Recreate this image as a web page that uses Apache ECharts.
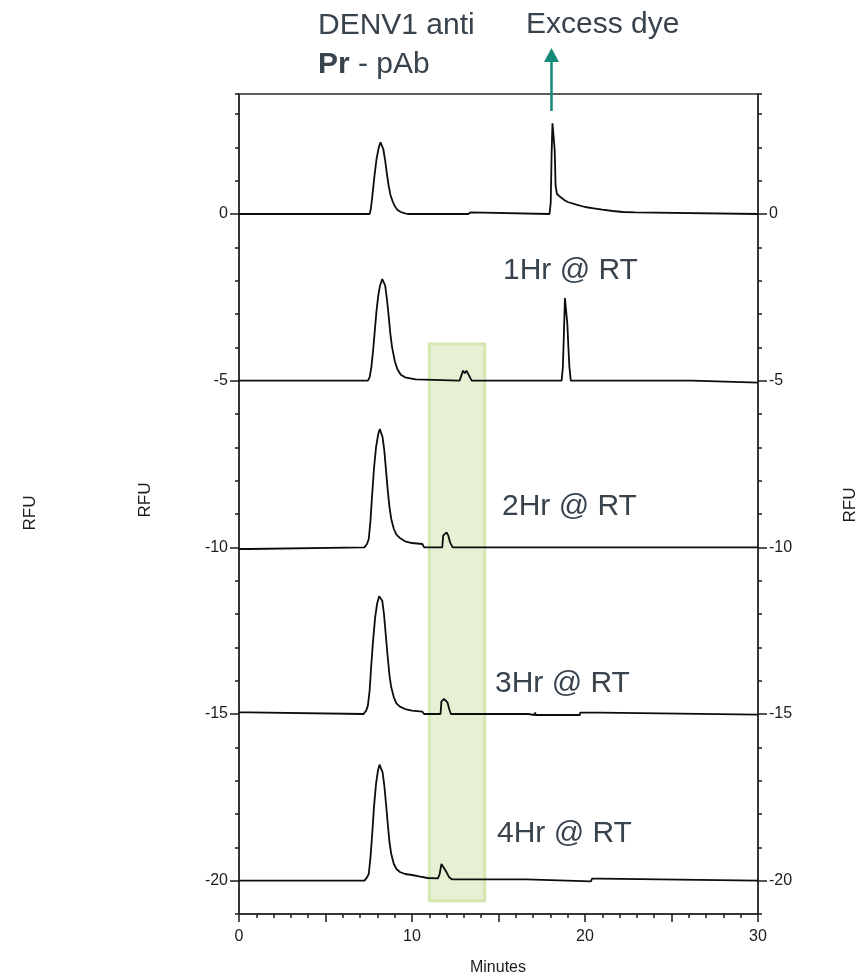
<!DOCTYPE html>
<html>
<head>
<meta charset="utf-8">
<title>DENV1 anti Pr - pAb</title>
<script src="https://cdn.jsdelivr.net/npm/echarts@6/dist/echarts.min.js"></script>
<style>
  html, body { margin: 0; padding: 0; background: #ffffff; }
  #chart { width: 862px; height: 979px; }
</style>
</head>
<body>
<div id="chart"></div>
<script>
// Fluorescence traces (minutes, RFU); each run is plotted on its own offset baseline.
const trace0h = [
  [0, 0], [7.55, 0], [7.62, 0.15], [7.7, 0.5], [7.82, 1.1], [7.95, 1.65], [8.08, 2.0],
  [8.18, 2.15], [8.26, 2.12], [8.34, 1.95], [8.45, 1.6], [8.55, 1.2], [8.65, 0.85],
  [8.75, 0.58], [8.88, 0.38], [9.0, 0.24], [9.15, 0.13], [9.35, 0.06], [9.6, 0.02],
  [9.75, 0], [13.25, 0], [13.3, 0.05], [13.4, 0.05], [13.45, 0], [17.95, 0],
  [18.02, 0.35], [18.07, 1.8], [18.12, 2.72], [18.2, 2.72], [18.25, 1.9], [18.3, 0.85],
  [18.38, 0.6], [18.45, 0.64], [18.6, 0.5], [18.8, 0.42], [19.0, 0.36], [19.5, 0.28],
  [20.0, 0.21], [20.5, 0.17], [21.0, 0.13], [21.6, 0.09], [22.2, 0.06], [22.9, 0.05],
  [23.0, 0], [30, 0]
];
const trace1h = [
  [0, -5], [7.45, -5], [7.55, -4.9], [7.65, -4.6], [7.75, -4.1], [7.85, -3.5], [7.95, -2.9],
  [8.05, -2.45], [8.15, -2.15], [8.28, -1.95], [8.38, -1.95], [8.45, -2.15], [8.55, -2.55],
  [8.65, -3.05], [8.75, -3.6], [8.85, -4.0], [9.0, -4.4], [9.15, -4.65], [9.35, -4.82],
  [9.6, -4.9], [9.9, -4.93], [10.2, -4.96], [10.3, -5], [12.75, -5], [12.85, -4.85],
  [12.95, -4.7], [13.05, -4.78], [13.15, -4.7], [13.3, -4.85], [13.45, -5], [18.65, -5],
  [18.72, -4.6], [18.78, -3.6], [18.84, -2.52], [18.93, -2.52], [18.98, -3.3], [19.04, -4.0],
  [19.1, -4.6], [19.18, -5], [26.2, -5], [26.25, -5.06], [30, -5.06]
];
const trace2h = [
  [0, -10.05], [0.6, -10.05], [0.65, -10], [7.25, -10], [7.4, -9.9], [7.5, -9.75],
  [7.6, -9.2], [7.7, -8.4], [7.8, -7.65], [7.92, -7.0], [8.05, -6.6], [8.14, -6.45],
  [8.24, -6.5], [8.3, -6.7], [8.4, -7.1], [8.5, -7.7], [8.6, -8.3], [8.7, -8.8],
  [8.8, -9.15], [8.95, -9.45], [9.1, -9.62], [9.3, -9.72], [9.6, -9.82], [10.0, -9.87],
  [10.6, -9.9], [10.7, -10], [11.75, -10], [11.8, -9.65], [11.9, -9.6], [12.0, -9.55],
  [12.1, -9.65], [12.2, -9.85], [12.35, -10], [15.7, -10], [15.75, -9.94], [15.82, -10],
  [30, -10]
];
const trace3h = [
  [0, -14.95], [0.55, -14.95], [0.6, -15], [7.2, -15], [7.35, -14.9], [7.45, -14.75],
  [7.55, -14.3], [7.65, -13.5], [7.75, -12.8], [7.87, -12.1], [7.98, -11.7], [8.1, -11.47],
  [8.2, -11.48], [8.28, -11.6], [8.38, -12.0], [8.48, -12.6], [8.58, -13.2], [8.7, -13.85],
  [8.8, -14.2], [8.95, -14.5], [9.1, -14.68], [9.3, -14.78], [9.6, -14.85], [10.0, -14.9],
  [10.6, -14.93], [10.7, -15], [11.65, -15], [11.7, -14.62], [11.85, -14.55], [11.95, -14.5],
  [12.05, -14.65], [12.15, -14.85], [12.25, -15], [15.6, -15], [15.63, -14.95], [15.66, -15],
  [16.7, -15], [16.72, -15.03], [17.1, -15.03], [17.12, -14.95], [17.15, -15.03],
  [19.7, -15.03], [19.72, -14.96], [20.9, -14.96], [20.92, -15.02], [30, -15.02]
];
const trace4h = [
  [0, -20], [7.25, -20], [7.4, -19.9], [7.5, -19.8], [7.6, -19.3], [7.7, -18.6],
  [7.8, -17.8], [7.92, -17.1], [8.03, -16.7], [8.12, -16.52], [8.22, -16.55], [8.3, -16.75],
  [8.4, -17.15], [8.5, -17.7], [8.6, -18.3], [8.7, -18.85], [8.8, -19.2], [8.95, -19.5],
  [9.1, -19.65], [9.3, -19.74], [9.6, -19.8], [10.0, -19.83], [10.4, -19.87], [10.9, -19.92],
  [11.5, -19.93], [11.6, -19.8], [11.7, -19.5], [11.8, -19.58], [11.88, -19.52], [12.0, -19.75],
  [12.15, -19.9], [12.3, -19.96], [16.6, -19.96], [16.65, -20.02], [20.35, -20.02],
  [20.4, -19.94], [20.85, -19.94], [20.9, -20], [30, -20]
];

const traceNames = ['0Hr', '1Hr @ RT', '2Hr @ RT', '3Hr @ RT', '4Hr @ RT'];
const traces = [trace0h, trace1h, trace2h, trace3h, trace4h];

// Axis ranges and tick labels
const xRange = [0, 30];
const yRange = [-21, 3.6];
const labelledY = [-20, 0];      // span carrying the RFU tick labels
const xTickLabels = [0, 10, 20, 30];

// Shaded retention window (minutes x RFU)
const windowX = [11.0, 14.2];
const windowY = [-3.9, -20.6];

// Plot frame in pixels
const W = 862, H = 979;
const plotLeft = 239, plotRight = 758, plotTop = 94, plotBottom = 914;
const pxPerUnit = (plotBottom - plotTop) / (yRange[1] - yRange[0]);
const labelTop = plotTop + (yRange[1] - labelledY[1]) * pxPerUnit;
const labelBottom = plotTop + (yRange[1] - labelledY[0]) * pxPerUnit;

const inkColor = '#1c1c1c';
const noteColor = '#38434d';
const tickFont = { fontFamily: 'Liberation Sans, Arial, sans-serif', fontSize: 16, color: inkColor };
const frameLine = { show: true, onZero: false, lineStyle: { color: '#2a2a2a', width: 1.5 } };

const chart = echarts.init(document.getElementById('chart'), null, { renderer: 'canvas' });

const series = traces.map((d, i) => ({
  name: traceNames[i],
  type: 'line',
  xAxisIndex: 0,
  yAxisIndex: 0,
  data: d,
  symbol: 'none',
  smooth: false,
  z: i === 0 ? 1 : 3,
  lineStyle: { color: '#0d0d0d', width: 1.8 },
  markArea: i === 0 ? {
    silent: true,
    itemStyle: { color: '#e6f1d4', borderColor: '#d4e7b0', borderWidth: 3 },
    data: [[{ coord: [windowX[0], windowY[0]] }, { coord: [windowX[1], windowY[1]] }]]
  } : undefined
}));

// Annotation text: (x, y) is the left edge and vertical middle of the line
const noteText = (text, x, y) => ({
  type: 'text',
  x: x,
  y: y,
  style: {
    text: text,
    fill: noteColor,
    font: '30px "Liberation Sans", Arial, sans-serif',
    align: 'left',
    verticalAlign: 'middle'
  }
});

const rfuLabel = (cx, cy) => ({
  type: 'text',
  x: cx,
  y: cy,
  rotation: Math.PI / 2,
  style: {
    text: 'RFU',
    fill: inkColor,
    font: '17px "Liberation Sans", Arial, sans-serif',
    align: 'center',
    verticalAlign: 'middle'
  }
});

const option = {
  animation: false,
  backgroundColor: '#ffffff',
  grid: [
    {
      left: plotLeft, right: W - plotRight, top: plotTop, bottom: H - plotBottom,
      show: true, borderColor: '#2a2a2a', borderWidth: 1.5, backgroundColor: 'transparent'
    },
    {
      left: plotLeft, right: W - plotRight, top: labelTop, bottom: H - labelBottom,
      show: false
    }
  ],
  xAxis: [
    {
      gridIndex: 0, type: 'value', position: 'bottom', min: xRange[0], max: xRange[1], interval: 5,
      axisLine: frameLine,
      axisTick: { show: true, length: 8, lineStyle: { color: inkColor, width: 1.5 } },
      minorTick: { show: true, splitNumber: 5, length: 4, lineStyle: { color: inkColor, width: 1.5 } },
      axisLabel: Object.assign({
        margin: 15,
        formatter: v => (xTickLabels.indexOf(v) >= 0 ? String(v) : '')
      }, tickFont),
      splitLine: { show: false }
    },
    { gridIndex: 1, type: 'value', min: xRange[0], max: xRange[1], show: false }
  ],
  yAxis: [
    {
      gridIndex: 0, type: 'value', position: 'left', min: yRange[0], max: yRange[1], interval: 1,
      axisLine: frameLine,
      axisTick: { show: true, length: 4, lineStyle: { color: inkColor, width: 1.5 } },
      axisLabel: { show: false },
      splitLine: { show: false }
    },
    {
      gridIndex: 0, type: 'value', position: 'right', min: yRange[0], max: yRange[1], interval: 1,
      axisLine: frameLine,
      axisTick: { show: true, length: 4, lineStyle: { color: inkColor, width: 1.5 } },
      axisLabel: { show: false },
      splitLine: { show: false }
    },
    {
      gridIndex: 1, type: 'value', position: 'left', min: labelledY[0], max: labelledY[1], interval: 5,
      axisLine: { show: false, onZero: false },
      axisTick: { show: true, length: 9, lineStyle: { color: inkColor, width: 1.5 } },
      axisLabel: Object.assign({ margin: 11 }, tickFont),
      splitLine: { show: false }
    },
    {
      gridIndex: 1, type: 'value', position: 'right', min: labelledY[0], max: labelledY[1], interval: 5,
      axisLine: { show: false, onZero: false },
      axisTick: { show: true, length: 9, lineStyle: { color: inkColor, width: 1.5 } },
      axisLabel: Object.assign({ margin: 11 }, tickFont),
      splitLine: { show: false }
    }
  ],
  series: series,
  graphic: [
    noteText('DENV1 anti', 318, 26),
    {
      type: 'text',
      x: 318,
      y: 65,
      style: {
        text: '{b|Pr}{r| - pAb}',
        align: 'left',
        verticalAlign: 'middle',
        rich: {
          b: { fill: noteColor, font: 'bold 30px "Liberation Sans", Arial, sans-serif' },
          r: { fill: noteColor, font: '30px "Liberation Sans", Arial, sans-serif' }
        }
      }
    },
    noteText('Excess dye', 526, 25),
    // arrow pointing at the dye front
    {
      type: 'line',
      shape: { x1: 551.5, y1: 111, x2: 551.5, y2: 58 },
      style: { stroke: '#158a78', lineWidth: 2.5 }
    },
    {
      type: 'polygon',
      shape: { points: [[551.5, 48], [544, 62], [559, 62]] },
      style: { fill: '#158a78' }
    },
    noteText(traceNames[1], 503, 271),
    noteText(traceNames[2], 502, 507),
    noteText(traceNames[3], 495, 684),
    noteText(traceNames[4], 497, 834),
    {
      type: 'text',
      x: 498,
      y: 968,
      style: {
        text: 'Minutes',
        fill: inkColor,
        font: '16px "Liberation Sans", Arial, sans-serif',
        align: 'center',
        verticalAlign: 'middle'
      }
    },
    rfuLabel(30, 513),
    rfuLabel(145, 500),
    rfuLabel(850, 505)
  ]
};

chart.setOption(option);
</script>
</body>
</html>
